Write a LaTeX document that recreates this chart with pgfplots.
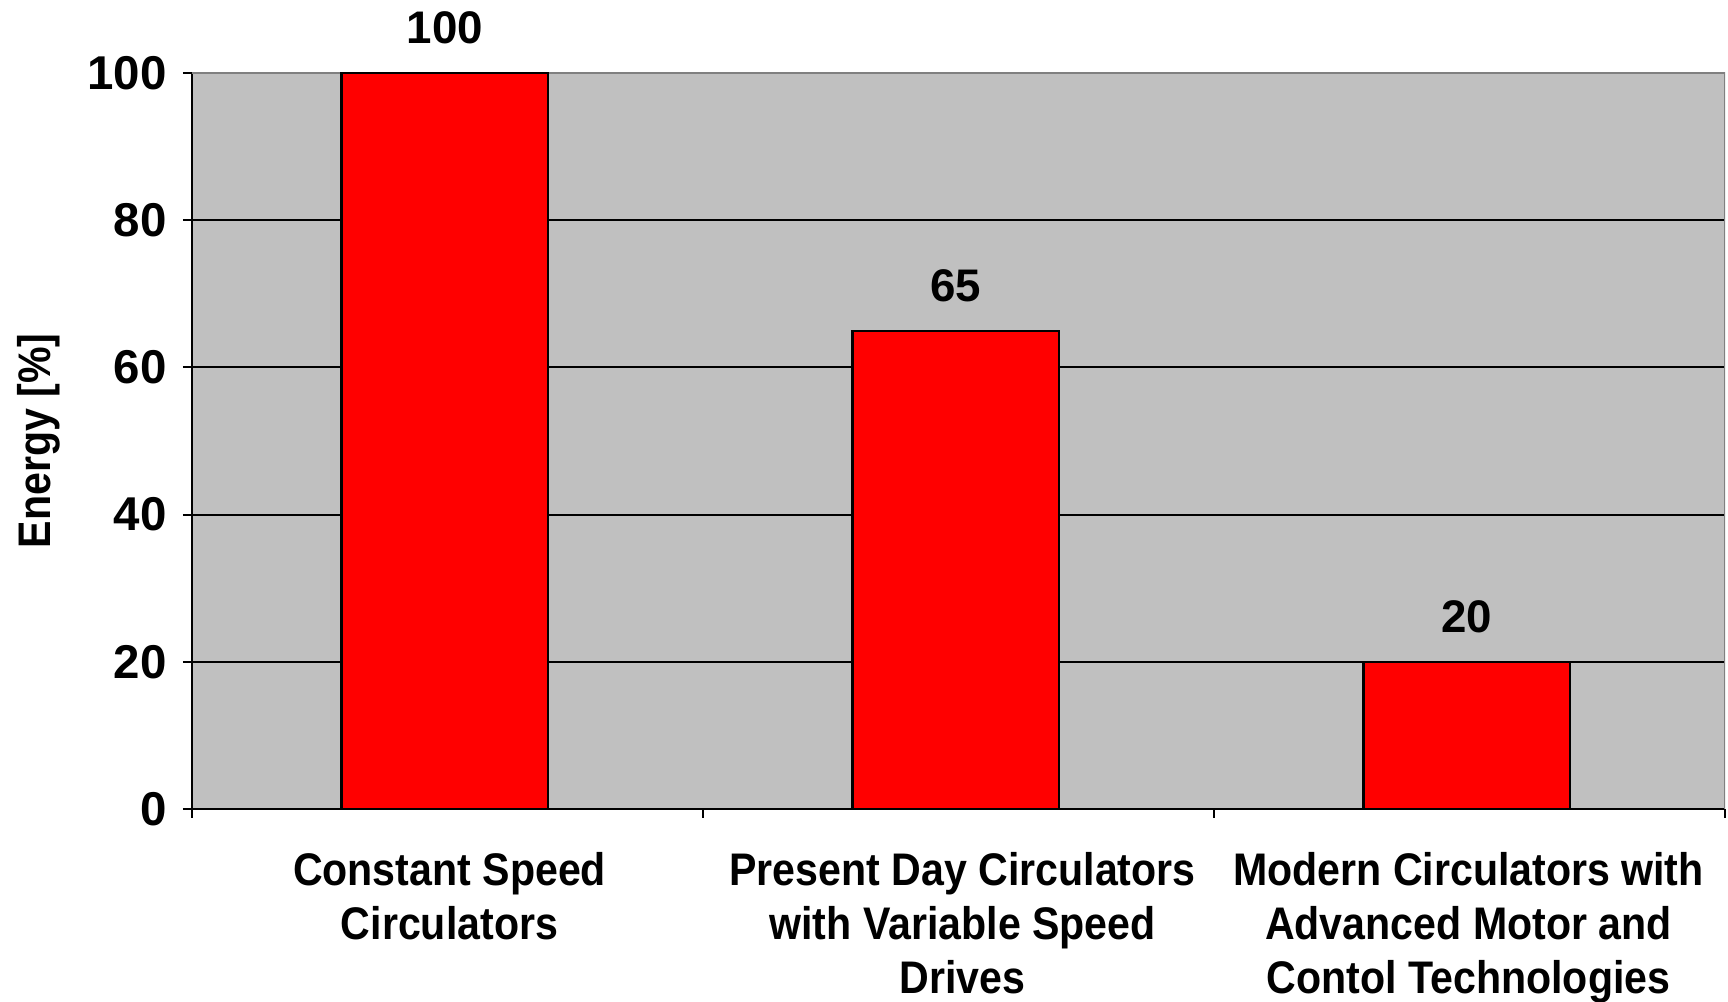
\documentclass[border=0pt]{standalone}
\usepackage{pgfplots}
\pgfplotsset{compat=1.18}
\usepackage{fontspec}
\setmainfont{Liberation Sans}
\newfontfamily\condfont[FakeStretch=0.9]{Liberation Sans}
\definecolor{barred}{RGB}{255,0,0}
\definecolor{bggray}{RGB}{192,192,192}
\definecolor{edgegray}{RGB}{128,128,128}
\begin{document}
\begin{tikzpicture}
\begin{axis}[
  scale only axis, width=153.3mm, height=73.6mm,
  xmin=-0.5, xmax=2.5, ymin=0, ymax=100,
  axis background/.style={fill=bggray},
  axis x line*=bottom, axis y line*=left,
  axis line style={black, line width=0.6pt, -},
  ytick={0,20,40,60,80,100},
  ymajorgrids, grid style={black, line width=0.6pt},
  xtick={-0.5,0.5,1.5,2.5}, xticklabels={},
  extra x ticks={0.004,1.008,1.998},
  extra x tick labels={{Constant Speed\\Circulators},{Present Day Circulators\\with Variable Speed\\Drives},{Modern Circulators with\\Advanced Motor and\\Contol Technologies}},
  extra x tick style={major tick length=0pt, xticklabel style={align=center, font=\condfont\bfseries\fontsize{13}{15.3}\selectfont, anchor=north, yshift=-3.1mm}},
  tick align=outside,
  major tick length=0.9mm,
  tick style={black, line width=0.6pt},
  /pgf/number format/assume math mode=true,
  yticklabel style={font=\bfseries\fontsize{13.5}{15}\selectfont, xshift=-0.4mm},
  ylabel={Energy [\%]},
  ylabel style={font=\condfont\bfseries\fontsize{13}{15}\selectfont, at={(axis description cs:-0.0998,0.5)}, anchor=center},
  ybar, bar width=0.405,
]
\draw[edgegray, line width=0.6pt] (rel axis cs:0,1) -- (rel axis cs:1,1) -- (rel axis cs:1,0);
\addplot[fill=barred, draw=black, line width=0.6pt,
  nodes near coords,
  nodes near coords style={font=\bfseries\fontsize{13}{15}\selectfont, anchor=center, yshift=4.5mm}]
  coordinates {(-0.005,100) (0.995,65) (1.995,20)};
\end{axis}
\pgfresetboundingbox
\path ([xshift=-19.2mm,yshift=-19.3mm]current axis.south west) rectangle ([xshift=0.3mm,yshift=7.3mm]current axis.north east);
\end{tikzpicture}
\end{document}
